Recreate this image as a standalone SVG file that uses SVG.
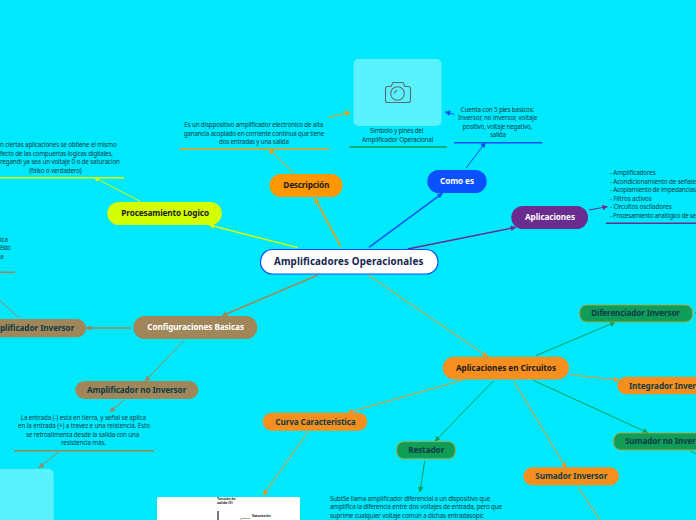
<svg xmlns="http://www.w3.org/2000/svg" width="696" height="520" viewBox="0 0 696 520">
<style>
text{font-family:"Noto Sans","Open Sans",sans-serif}
.t{font-size:6.300px;fill:#0c3c48}
.n{font-size:8.200px;font-weight:700}
.d{fill:#0c3c48}
.b{fill:#1a1a1a}
.w{fill:#fff}
.u{stroke-width:1.500;fill:none}
.c{fill:none}
</style>
<defs>
<marker id="a" viewBox="0 0 10 10" refX="9" refY="5" markerWidth="5.500" markerHeight="5.500" orient="auto" markerUnits="userSpaceOnUse"><path d="M0 0L10 5L0 10Z" fill="context-stroke"/></marker>
</defs>
<rect width="696" height="520" fill="#00e9fc"/>
<g id="connectors" class="c" stroke-width="1">
<path d="M340.700 246.700L315 198.300" stroke="#ff9800" stroke-width="1.500" marker-end="url(#a)"/>
<path d="M297.700 247.700L209.300 225" stroke="#d4ff00" stroke-width="1.300" marker-end="url(#a)"/>
<path d="M369 247.300L442.300 193.300" stroke="#0a50ff" stroke-width="1.500" marker-end="url(#a)"/>
<path d="M407.700 249L515.700 227.300" stroke="#6a2d8f" stroke-width="1.500" marker-end="url(#a)"/>
<path d="M318 275L222.300 315.700" stroke="#a08659" stroke-width="1.500" marker-end="url(#a)"/>
<path d="M368 275L487.700 356.700" stroke="#f78f1e" marker-end="url(#a)"/>
<path d="M294 173.300L269.300 149.300" stroke="#ff9800" marker-end="url(#a)"/>
<path d="M140.700 201.700L94 177.300" stroke="#d4ff00" marker-end="url(#a)"/>
<path d="M328.300 117.300L350 112.300" stroke="#ff9800" marker-end="url(#a)"/>
<path d="M466 168.300L485.300 142.700" stroke="#0a50ff" marker-end="url(#a)"/>
<path d="M454.300 114.300L445.300 112" stroke="#0a50ff" marker-end="url(#a)"/>
<path d="M589 210L607.300 206.700" stroke="#6a2d8f" marker-end="url(#a)"/>
<path d="M131 328L86 328" stroke="#a08659" stroke-width="1.500" marker-end="url(#a)"/>
<path d="M183.300 341L145.300 381" stroke="#a08659" marker-end="url(#a)"/>
<path d="M123.700 400.300L110 411.700" stroke="#a08659" marker-end="url(#a)"/>
<path d="M58 452.300L39 467.700" stroke="#a08659" marker-end="url(#a)"/>
<path d="M19 318L0 300.700" stroke="#a08659"/>
<path d="M535.700 355.700L615 322.300" stroke="#0f9d58" marker-end="url(#a)"/>
<path d="M570 374.700L619 380" stroke="#f78f1e" marker-end="url(#a)"/>
<path d="M533.300 380.300L647.700 432.700" stroke="#0f9d58" marker-end="url(#a)"/>
<path d="M514 381.300L566 467.700" stroke="#f78f1e" marker-end="url(#a)"/>
<path d="M493.300 381L435 441.300" stroke="#0f9d58" marker-end="url(#a)"/>
<path d="M463.300 380L348.300 412.300" stroke="#f78f1e" marker-end="url(#a)"/>
<path d="M307.700 432.300L263.300 495" stroke="#f78f1e" marker-end="url(#a)"/>
<path d="M424.700 461L420 491.700" stroke="#0f9d58" marker-end="url(#a)"/>
<path d="M578.300 487.300L600 520" stroke="#f78f1e"/>
<path d="M690.700 451L696 454" stroke="#0f9d58"/>
<path d="M695 312.700H696" stroke="#0f9d58"/>
</g>
<g id="center"><rect x="260.500" y="249.500" width="177.500" height="24.500" rx="12" fill="#fff" stroke="#0a50ff" stroke-width="1.200"/><text x="274" y="265" textLength="149.300" font-size="9.800" font-weight="700" fill="#14264f">Amplificadores Operacionales</text></g>
<g id="descripcion"><rect x="269.500" y="174" width="73" height="23" rx="11.500" fill="#ff9800"/><text x="283.300" y="188" textLength="46" class="n b">Descripción</text><text class="t"><tspan x="184.300" y="127" textLength="139">Es un disppositivo amplificador electronico de alta</tspan><tspan x="183.700" y="135.500" textLength="140.600">ganancia acoplado en corriente continua que tiene</tspan><tspan x="219" y="144" textLength="70">dos entradas y una salida</tspan></text><path d="M180 149.300H329" class="u" stroke="#ff9800"/></g>
<g id="procesamiento"><rect x="107.300" y="202" width="114.500" height="23" rx="11.500" fill="#d4ff00"/><text x="121.300" y="216" textLength="87.700" class="n b">Procesamiento Logico</text><text class="t"><tspan x="0" y="147" textLength="116.700">n ciertas aplicaciones se obtiene el mismo</tspan><tspan x="0" y="155.500" textLength="113">fecto de las compuertas logicas digitales,</tspan><tspan x="0" y="164" textLength="120">regandi ya sea un voltaje 0 o de saturacion</tspan><tspan x="29.300" y="172.500" textLength="52.400">(falso o verdadero)</tspan></text><path d="M0 177.700H124.300" class="u" stroke="#d4ff00"/></g>
<g id="comoes"><rect x="427.300" y="170" width="59.400" height="23" rx="11.500" fill="#0a50ff"/><text x="440" y="184" textLength="34" class="n w">Como es</text><text class="t"><tspan x="460.700" y="112" textLength="73.600">Cuenta con 5 pies basicos:</tspan><tspan x="458" y="120" textLength="79.300">Inversor, no inversor, voltaje</tspan><tspan x="462.700" y="129" textLength="69.600">positivo, voltaje negativo,</tspan><tspan x="490" y="137" textLength="16">salida</tspan></text><path d="M454 142.700H542.300" class="u" stroke="#0a50ff"/></g>
<g id="simbolo"><rect x="353.500" y="59" width="88" height="67" rx="5" fill="#5af2ff"/><g fill="none" stroke="#5b6b70" stroke-width="1.100" stroke-linejoin="round"><path d="M385.500 100.500V88.500a2 2 0 0 1 2-2h3.500l2-4h10l2 4h3.500a2 2 0 0 1 2 2v12a2 2 0 0 1-2 2h-21a2 2 0 0 1-2-2z"/><circle cx="397.500" cy="93.500" r="6.800"/><path d="M394.500 93.500a3 3 0 0 1 3-3"/></g><text class="t"><tspan x="370" y="133" textLength="53.300">Simbolo y pines del</tspan><tspan x="362" y="142" textLength="71.300">Amplificador Operacional</tspan></text><path d="M349.300 147H446.700" class="u" stroke="#0f9d58"/></g>
<g id="aplicaciones"><rect x="511.300" y="206" width="76.700" height="23" rx="11.500" fill="#6a2d8f"/><text x="525" y="220" textLength="50" class="n w">Aplicaciones</text><text class="t"><tspan x="610" y="175" textLength="45.700">- Amplificadores</tspan><tspan x="610" y="184" textLength="86">- Acondicionamiento de señale</tspan><tspan x="610" y="192" textLength="86">- Acoplamiento de impedancias</tspan><tspan x="610" y="201" textLength="41.700">- Filtros activos</tspan><tspan x="610" y="209" textLength="61.700">- Circuitos osciladores</tspan><tspan x="610" y="218" textLength="86">- Procesamiento analógico de se</tspan></text><path d="M606 223.300H696" class="u" stroke="#6a2d8f"/></g>
<g id="configuraciones"><rect x="133.300" y="316" width="124" height="23" rx="11.500" fill="#a08659"/><text x="147.300" y="330" textLength="96.700" class="n w">Configuraciones Basicas</text></g>
<g id="inversor"><rect x="-40" y="319" width="126" height="18.300" rx="9" fill="#a08659"/><text x="0" y="331" textLength="74.300" class="n d">plificador Inversor</text><text class="t"><tspan x="0" y="242" textLength="8">ica</tspan><tspan x="0" y="250" textLength="10.700">Esto</tspan><tspan x="0" y="259">a</tspan></text><path d="M0 272.300H15" class="u" stroke="#a08659"/></g>
<g id="noinversor"><rect x="75.300" y="381" width="123" height="18" rx="9" fill="#a08659"/><text x="87" y="393" textLength="99.300" class="n d">Amplificador no Inversor</text><text class="t"><tspan x="20.700" y="420" textLength="125.300">La entrada (-) esta en tierra, y señal se aplica</tspan><tspan x="18" y="428" textLength="132">en la entrada (+) a travez e una reistencia. Esto</tspan><tspan x="26" y="437" textLength="113.300">se retroalimenta desde la salida con una</tspan><tspan x="61" y="445" textLength="45">resistencia más.</tspan></text><path d="M14 450.700H154" class="u" stroke="#a08659"/></g>
<g id="imagen-inversor"><rect x="-30" y="469" width="83.700" height="60" rx="5" fill="#5af2ff"/></g>
<g id="circuitos"><rect x="442.700" y="356.700" width="126.300" height="22.700" rx="11.300" fill="#f78f1e"/><text x="456" y="371" textLength="100" class="n b">Aplicaciones en Circuitos</text></g>
<g id="diferenciador"><rect x="579.700" y="305" width="112.800" height="17" rx="7" fill="#0f9d58" stroke="#c9a227" stroke-width=".8"/><text x="591.300" y="316" textLength="88.700" class="n d">Diferenciador Inversor</text></g>
<g id="integrador"><rect x="617.300" y="376.700" width="110" height="17.600" rx="8.800" fill="#f78f1e"/><text x="629" y="388.500" textLength="67" class="n d">Integrador Inver</text></g>
<g id="sumadornoinv"><rect x="613.700" y="433" width="110" height="17" rx="7" fill="#0f9d58" stroke="#c9a227" stroke-width=".8"/><text x="625" y="444" textLength="71" class="n d">Sumador no Inver</text></g>
<g id="sumadorinv"><rect x="523.300" y="467.300" width="95.700" height="18" rx="9" fill="#f78f1e"/><text x="535.300" y="479.300" textLength="72" class="n d">Sumador Inversor</text></g>
<g id="restador"><rect x="396.700" y="441.700" width="58.600" height="17" rx="7" fill="#0f9d58" stroke="#c9a227" stroke-width=".8"/><text x="408.300" y="453" textLength="36" class="n d">Restador</text></g>
<g id="restador-texto"><text class="t"><tspan x="330" y="501" textLength="160.300">SubtSe llama amplificador diferencial a un dispositivo que</tspan><tspan x="330" y="509" textLength="172">amplifica la diferencia entre dos voltajes de entrada, pero que</tspan><tspan x="330" y="518" textLength="154">suprime cualquier voltaje común a dichas entradasopic</tspan></text></g>
<g id="curva"><rect x="262.700" y="412.700" width="104.600" height="18" rx="9" fill="#f78f1e"/><text x="275.300" y="424.500" textLength="80.400" class="n d">Curva Caracteristica</text></g>
<g id="grafica"><rect x="157" y="497" width="143" height="30" rx="2" fill="#fff"/><text font-size="3.500" font-weight="700" fill="#222"><tspan x="217" y="500">Tensión de</tspan><tspan x="217" y="504">salida (V)</tspan><tspan x="252" y="516.500">Saturación</tspan></text><path d="M218 520V511" stroke="#333" stroke-width="1.300"/><path d="M241 520V518.500H250" stroke="#555" stroke-width=".5" fill="none"/></g>
</svg>
